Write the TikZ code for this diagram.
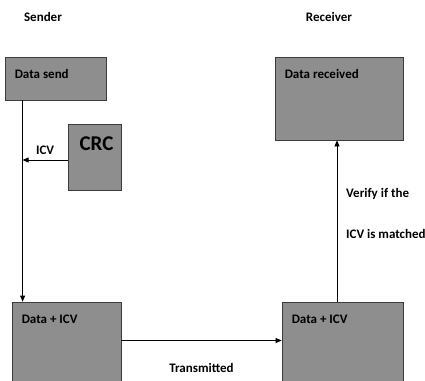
\documentclass[tikz,border=0pt]{standalone}
\usepackage{fontspec}
\setmainfont{Carlito}
\usetikzlibrary{arrows.meta, positioning}
\definecolor{boxGray}{RGB}{142,142,142}
\definecolor{boxEdge}{RGB}{60,60,60}

\begin{document}
\begin{tikzpicture}[x=1pt, y=-1pt]
    \tikzstyle{block} = [rectangle, draw=boxEdge, fill=boxGray, line width=0.8pt, inner sep=0pt]
    \tikzstyle{boxtext} = [inner sep=0pt, font=\fontsize{13}{15}\selectfont\bfseries]
    \tikzstyle{flow} = [line width=0.8pt, -{Triangle[length=6pt, width=5pt]}]

    \clip (0,0) rectangle (425,380);

    \node[boxtext] (sender) at (43,17) {Sender};
    \node[boxtext] (receiver) at (329,17) {Receiver};

    \node[block, minimum width=101pt, minimum height=43pt] (send) at (55.5,78.5) {};
    \node[boxtext, below right=13pt and 10pt of send.north west] (sendtxt) {Data send};

    \node[block, minimum width=53pt, minimum height=66pt] (crc) at (94.5,157) {};
    \node[boxtext, font=\fontsize{21}{24}\selectfont\bfseries, below=13pt of crc.north, xshift=2pt] (crctxt) {CRC};

    \node[block, minimum width=128pt, minimum height=83pt] (recv) at (339,98.5) {};
    \node[boxtext, below right=13pt and 10pt of recv.north west] (recvtxt) {Data received};

    \node[block, minimum width=109pt, minimum height=93pt] (dl) at (66.5,348.5) {};
    \node[boxtext, below right=13pt and 10pt of dl.north west] (dltxt) {Data + ICV};

    \node[block, minimum width=121pt, minimum height=93pt] (dr) at (342.5,348.5) {};
    \node[boxtext, below right=13pt and 10pt of dr.north west] (drtxt) {Data + ICV};

    \coordinate (bus) at ([xshift=18pt]send.south west);
    \draw[flow] (bus) -- ([xshift=11pt]dl.north west);
    \draw[flow] ([yshift=-3pt]crc.west) -- ([yshift=-3pt]crc.west -| bus) node[boxtext, midway, above=5pt] (icv) {ICV};

    \draw[flow] ([yshift=8pt]dl.east) -- ([yshift=8pt]dr.west) node[boxtext, midway, below=22pt] (trans) {Transmitted};

    \draw[flow] ([xshift=-5.5pt]dr.north) -- ([xshift=-5.5pt]dr.north |- recv.south);
    \node[boxtext, anchor=west] (verify1) at (346,194) {Verify if the};
    \node[boxtext, anchor=west] (verify2) at (346,234) {ICV is matched};
\end{tikzpicture}
\end{document}
